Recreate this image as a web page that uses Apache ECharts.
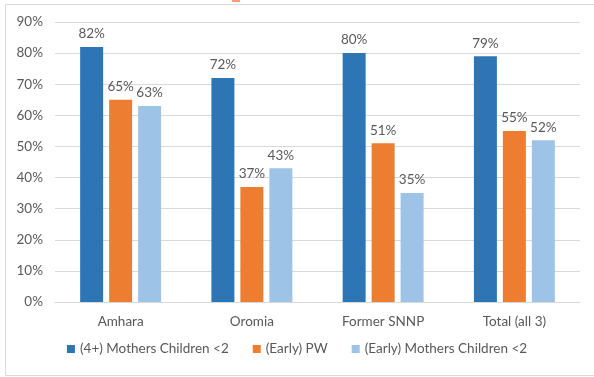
<!DOCTYPE html>
<html>
<head>
<meta charset="utf-8">
<script src="https://cdn.jsdelivr.net/npm/echarts@6/dist/echarts.min.js"></script>
<style>
  html, body { margin: 0; padding: 0; background: #fff; }
  #chart { width: 594px; height: 377px; }
</style>
</head>
<body>
<div id="chart"></div>
<script>
// Regions and coverage shares (percent)
const categories = ['Amhara', 'Oromia', 'Former SNNP', 'Total (all 3)'];
const seriesNames = ['(4+) Mothers Children <2', '(Early) PW', '(Early) Mothers Children <2'];
const mothers4Plus = [82, 72, 80, 79];
const earlyPW = [65, 37, 51, 55];
const earlyMothers = [63, 43, 35, 52];
const yTicks = [0, 10, 20, 30, 40, 50, 60, 70, 80, 90];

const colors = ['#2E75B6', '#ED7D31', '#9DC3E6'];
const textColor = '#595959';
const gridColor = '#D9D9D9';
const fontFamily = 'Lato, "Open Sans", "Liberation Sans", sans-serif';
const fontSize = 13.5;

function barSeries(name, data, color) {
  return {
    name: name,
    type: 'bar',
    data: data,
    barWidth: 23,
    barGap: '26%',
    itemStyle: { color: color },
    label: {
      show: true,
      position: 'top',
      distance: 6,
      formatter: '{c}%',
      color: textColor,
      fontSize: fontSize,
      fontFamily: fontFamily
    }
  };
}

const chart = echarts.init(document.getElementById('chart'), null, { renderer: 'canvas' });
chart.setOption({
  animation: false,
  backgroundColor: '#fff',
  color: colors,
  textStyle: { fontFamily: fontFamily },
  graphic: [
    {
      type: 'rect',
      shape: { x: 5.5, y: 4.5, width: 594, height: 371 },
      style: { fill: 'none', stroke: gridColor, lineWidth: 1 },
      silent: true
    },
    {
      type: 'rect',
      shape: { x: 232, y: 0, width: 8, height: 2 },
      style: { fill: '#F4A07A' },
      silent: true
    }
  ],
  grid: { left: 55, right: 14, top: 22, bottom: 75 },
  legend: {
    data: seriesNames,
    bottom: 16,
    left: 'center',
    itemWidth: 8,
    itemHeight: 8,
    itemGap: 24,
    icon: 'rect',
    textStyle: { color: textColor, fontSize: fontSize, fontFamily: fontFamily }
  },
  xAxis: {
    type: 'category',
    data: categories,
    axisLine: { lineStyle: { color: gridColor } },
    axisTick: { show: false },
    axisLabel: { color: textColor, fontSize: fontSize, margin: 13, fontFamily: fontFamily }
  },
  yAxis: {
    type: 'value',
    min: yTicks[0],
    max: yTicks[yTicks.length - 1],
    interval: 10,
    axisLine: { show: false },
    axisTick: { show: false },
    splitLine: { lineStyle: { color: gridColor } },
    axisLabel: {
      formatter: '{value}%',
      color: textColor,
      fontSize: fontSize,
      margin: 12,
      fontFamily: fontFamily
    }
  },
  series: [
    barSeries(seriesNames[0], mothers4Plus, colors[0]),
    barSeries(seriesNames[1], earlyPW, colors[1]),
    barSeries(seriesNames[2], earlyMothers, colors[2])
  ]
});
</script>
</body>
</html>
